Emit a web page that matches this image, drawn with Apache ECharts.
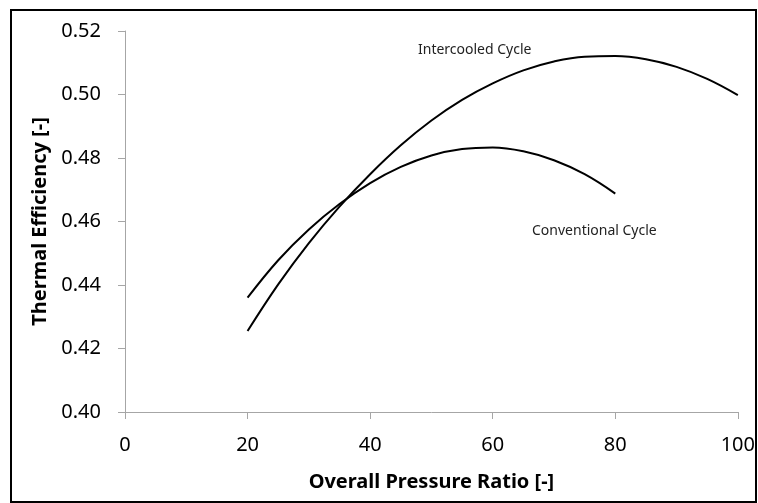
<!DOCTYPE html>
<html>
<head>
<meta charset="utf-8">
<script src="https://cdn.jsdelivr.net/npm/echarts@6/dist/echarts.min.js"></script>
<style>
html,body{margin:0;padding:0;background:#fff;}
#chart{width:758px;height:503px;}
</style>
</head>
<body>
<div id="chart"></div>
<script>
var pressureRatio = [20, 25, 30, 35, 40, 45, 50, 55, 60, 65, 70, 75, 80, 85, 90, 95, 100];
var intercooled = [0.4255, 0.4402, 0.4532, 0.4647, 0.4749, 0.4840, 0.4918, 0.4983, 0.5035, 0.5076, 0.5104, 0.5119, 0.5121, 0.5111, 0.5087, 0.5049, 0.4998];
var conventional = [0.4360, 0.4478, 0.4575, 0.4655, 0.4721, 0.4772, 0.4808, 0.4828, 0.4833, 0.4821, 0.4793, 0.4749, 0.4688];
var xTicks = [0, 20, 40, 60, 80, 100];
var yTicks = [0.40, 0.42, 0.44, 0.46, 0.48, 0.50, 0.52];

function pairs(xs, ys) {
  var out = [];
  for (var i = 0; i < ys.length; i++) out.push([xs[i], ys[i]]);
  return out;
}

var font = 'Noto Sans';
var chart = echarts.init(document.getElementById('chart'));
chart.setOption({
  animation: false,
  backgroundColor: '#ffffff',
  grid: { left: 125, right: 20, top: 31, bottom: 91, containLabel: false },
  xAxis: {
    type: 'value',
    min: xTicks[0], max: xTicks[xTicks.length - 1], interval: 20,
    name: 'Overall Pressure Ratio [-]',
    nameLocation: 'middle',
    nameGap: 60,
    nameTextStyle: { fontFamily: font, fontWeight: 'bold', fontSize: 20, color: '#000' },
    axisLine: { show: true, lineStyle: { color: '#a6a6a6', width: 1 } },
    axisTick: { show: true, length: 7, inside: false, lineStyle: { color: '#a6a6a6' } },
    axisLabel: { fontFamily: font, fontSize: 20, color: '#000', margin: 23 },
    splitLine: { show: false }
  },
  yAxis: {
    type: 'value',
    min: yTicks[0], max: yTicks[yTicks.length - 1], interval: 0.02,
    name: 'Thermal Efficiency [-]',
    nameLocation: 'middle',
    nameGap: 74,
    nameTextStyle: { fontFamily: font, fontWeight: 'bold', fontSize: 20, color: '#000' },
    axisLine: { show: true, lineStyle: { color: '#a6a6a6', width: 1 } },
    axisTick: { show: true, length: 7, inside: false, lineStyle: { color: '#a6a6a6' } },
    axisLabel: { fontFamily: font, fontSize: 20, color: '#000', margin: 24,
      formatter: function (v) { return v.toFixed(2); } },
    splitLine: { show: false }
  },
  series: [
    {
      name: 'Intercooled Cycle', type: 'line', smooth: 0.4, showSymbol: false,
      lineStyle: { color: '#000', width: 2 },
      data: pairs(pressureRatio, intercooled)
    },
    {
      name: 'Conventional Cycle', type: 'line', smooth: 0.4, showSymbol: false,
      lineStyle: { color: '#000', width: 2 },
      data: pairs(pressureRatio, conventional)
    }
  ],
  graphic: [
    { type: 'rect', shape: { x: 11, y: 10, width: 745, height: 492 },
      style: { fill: 'none', stroke: '#000', lineWidth: 2 }, silent: true },
    { type: 'text', x: 418, y: 50,
      style: { text: 'Intercooled Cycle', fontFamily: font, fontSize: 14, fill: '#222', verticalAlign: 'middle' } },
    { type: 'text', x: 532, y: 231,
      style: { text: 'Conventional Cycle', fontFamily: font, fontSize: 14, fill: '#222', verticalAlign: 'middle' } }
  ]
});
</script>
</body>
</html>
